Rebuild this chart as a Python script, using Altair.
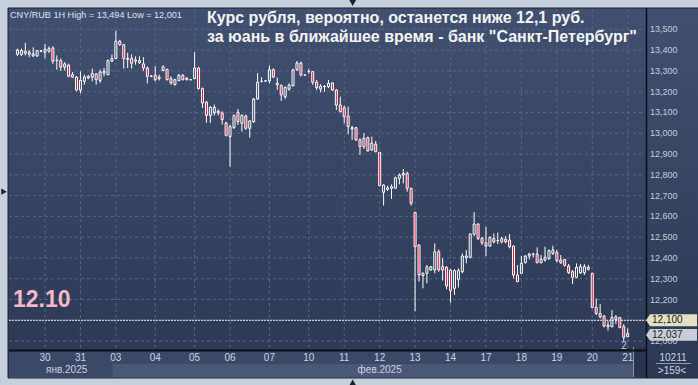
import altair as alt
import pandas as pd

opens = [13.380, 13.379, 13.395, 13.390, 13.372, 13.372, 13.395, 13.390, 13.395, 13.410,
         13.350, 13.350, 13.318, 13.327, 13.282, 13.270, 13.208, 13.250, 13.266, 13.270,
         13.285, 13.254, 13.290, 13.282, 13.347, 13.360, 13.443, 13.427, 13.355, 13.360,
         13.347, 13.350, 13.334, 13.314, 13.274, 13.279, 13.263, 13.302, 13.308, 13.263,
         13.234, 13.254, 13.279, 13.258, 13.257, 13.263, 13.314, 13.215, 13.150, 13.086,
         13.098, 13.106, 13.098, 13.050, 12.984, 13.027, 13.101, 13.048, 13.083, 13.024,
         13.056, 13.165, 13.249, 13.251, 13.252, 13.306, 13.241, 13.229, 13.176, 13.212,
         13.229, 13.306, 13.338, 13.281, 13.297, 13.297, 13.245, 13.213, 13.224, 13.224,
         13.242, 13.208, 13.136, 13.123, 13.083, 13.020, 13.027, 12.968, 12.936, 12.979,
         12.920, 12.948, 12.908, 12.716, 12.730, 12.735, 12.735, 12.783, 12.799, 12.807,
         12.735, 12.619, 12.462, 12.315, 12.326, 12.342, 12.342, 12.430, 12.342, 12.355,
         12.342, 12.254, 12.297, 12.334, 12.401, 12.403, 12.515, 12.563, 12.494, 12.473,
         12.457, 12.493, 12.483, 12.477, 12.490, 12.486, 12.457, 12.318, 12.326, 12.377,
         12.409, 12.418, 12.419, 12.377, 12.390, 12.398, 12.422, 12.427, 12.390, 12.393,
         12.361, 12.334, 12.307, 12.329, 12.329, 12.355, 12.326, 12.162, 12.133, 12.120,
         12.069, 12.069, 12.104, 12.113, 12.069, 12.021]
highs = [13.407, 13.407, 13.435, 13.400, 13.414, 13.400, 13.400, 13.430, 13.418, 13.418,
         13.375, 13.360, 13.342, 13.335, 13.295, 13.275, 13.298, 13.282, 13.280, 13.311,
         13.290, 13.306, 13.314, 13.355, 13.379, 13.494, 13.450, 13.430, 13.387, 13.379,
         13.370, 13.370, 13.366, 13.322, 13.280, 13.322, 13.282, 13.327, 13.310, 13.274,
         13.262, 13.286, 13.285, 13.270, 13.260, 13.391, 13.320, 13.220, 13.155, 13.130,
         13.138, 13.115, 13.106, 13.055, 13.040, 13.091, 13.117, 13.091, 13.090, 13.064,
         13.170, 13.289, 13.270, 13.256, 13.326, 13.313, 13.268, 13.236, 13.225, 13.240,
         13.310, 13.348, 13.345, 13.283, 13.310, 13.300, 13.257, 13.236, 13.232, 13.257,
         13.245, 13.213, 13.176, 13.133, 13.128, 13.036, 13.030, 12.976, 13.000, 12.984,
         12.984, 12.963, 12.910, 12.754, 12.748, 12.754, 12.791, 12.807, 12.828, 12.815,
         12.738, 12.622, 12.465, 12.331, 12.366, 12.361, 12.470, 12.441, 12.398, 12.360,
         12.345, 12.345, 12.350, 12.422, 12.438, 12.518, 12.620, 12.567, 12.502, 12.550,
         12.505, 12.518, 12.522, 12.502, 12.505, 12.515, 12.460, 12.366, 12.409, 12.414,
         12.425, 12.425, 12.451, 12.414, 12.454, 12.441, 12.459, 12.438, 12.414, 12.395,
         12.371, 12.342, 12.374, 12.371, 12.371, 12.366, 12.329, 12.205, 12.178, 12.125,
         12.098, 12.149, 12.125, 12.117, 12.082, 12.061]
lows = [13.372, 13.372, 13.375, 13.366, 13.368, 13.368, 13.390, 13.360, 13.387, 13.334,
        13.306, 13.300, 13.302, 13.270, 13.266, 13.202, 13.192, 13.234, 13.260, 13.250,
        13.234, 13.242, 13.274, 13.279, 13.343, 13.360, 13.420, 13.311, 13.314, 13.311,
        13.330, 13.334, 13.300, 13.240, 13.270, 13.250, 13.254, 13.298, 13.254, 13.234,
        13.230, 13.250, 13.254, 13.254, 13.255, 13.260, 13.210, 13.122, 13.050, 13.050,
        13.086, 13.086, 13.042, 12.985, 12.839, 13.021, 13.040, 13.008, 13.016, 12.979,
        13.050, 13.160, 13.245, 13.248, 13.240, 13.265, 13.209, 13.155, 13.165, 13.205,
        13.224, 13.300, 13.273, 13.278, 13.287, 13.233, 13.208, 13.197, 13.200, 13.217,
        13.204, 13.112, 13.101, 13.048, 12.995, 12.968, 12.963, 12.896, 12.924, 12.912,
        12.915, 12.908, 12.745, 12.652, 12.722, 12.684, 12.732, 12.754, 12.759, 12.719,
        12.652, 12.144, 12.286, 12.254, 12.278, 12.339, 12.326, 12.334, 12.291, 12.249,
        12.185, 12.222, 12.258, 12.326, 12.374, 12.398, 12.505, 12.486, 12.462, 12.409,
        12.454, 12.470, 12.467, 12.470, 12.470, 12.446, 12.302, 12.286, 12.323, 12.374,
        12.393, 12.403, 12.374, 12.374, 12.382, 12.390, 12.414, 12.380, 12.371, 12.358,
        12.323, 12.275, 12.302, 12.323, 12.318, 12.339, 12.157, 12.125, 12.109, 12.066,
        12.050, 12.066, 12.082, 12.061, 12.001, 12.018]
closes = [13.401, 13.398, 13.385, 13.380, 13.382, 13.398, 13.396, 13.404, 13.407, 13.347,
          13.352, 13.318, 13.334, 13.274, 13.270, 13.208, 13.254, 13.271, 13.274, 13.287,
          13.258, 13.295, 13.298, 13.350, 13.360, 13.443, 13.427, 13.360, 13.360, 13.337,
          13.353, 13.340, 13.314, 13.274, 13.275, 13.258, 13.270, 13.320, 13.258, 13.242,
          13.258, 13.279, 13.258, 13.266, 13.258, 13.314, 13.215, 13.146, 13.086, 13.125,
          13.125, 13.098, 13.066, 12.990, 13.032, 13.085, 13.056, 13.085, 13.024, 13.059,
          13.165, 13.245, 13.250, 13.252, 13.306, 13.271, 13.233, 13.184, 13.220, 13.232,
          13.305, 13.338, 13.281, 13.280, 13.297, 13.245, 13.220, 13.226, 13.225, 13.240,
          13.208, 13.136, 13.104, 13.080, 13.032, 13.027, 12.968, 12.936, 12.976, 12.915,
          12.952, 12.912, 12.748, 12.751, 12.738, 12.743, 12.786, 12.799, 12.807, 12.735,
          12.663, 12.454, 12.318, 12.326, 12.356, 12.358, 12.430, 12.342, 12.358, 12.265,
          12.242, 12.339, 12.339, 12.409, 12.409, 12.515, 12.563, 12.494, 12.473, 12.457,
          12.499, 12.477, 12.484, 12.493, 12.478, 12.454, 12.318, 12.286, 12.374, 12.409,
          12.419, 12.418, 12.377, 12.393, 12.403, 12.435, 12.438, 12.387, 12.377, 12.364,
          12.329, 12.307, 12.355, 12.358, 12.358, 12.345, 12.162, 12.133, 12.117, 12.072,
          12.077, 12.113, 12.117, 12.066, 12.018, 12.037]

day_labels = ["30", "31", "03", "04", "05", "06", "07", "10", "11", "12", "13", "14",
              "17", "18", "19", "20", "21"]
day_start = [7, 16, 25, 35, 45, 54, 64, 74, 83, 92, 101, 110, 119, 128, 137, 146, 155]
month_labels = ["янв.2025", "фев.2025"]
month_at = [12.5, 92.0]
price_ticks = [12.0, 12.1, 12.2, 12.3, 12.4, 12.5, 12.6, 12.7, 12.8, 12.9,
               13.0, 13.1, 13.2, 13.3, 13.4, 13.5]
price_tick_labels = ["12,000", "12,100", "12,200", "12,300", "12,400", "12,500", "12,600",
                     "12,700", "12,800", "12,900", "13,000", "13,100", "13,200", "13,300",
                     "13,400", "13,500"]
level_value = [12.10]
level_text = ["12,100"]
last_value = [12.037]
last_text = ["12,037"]

W, H = 636, 341
FONT = "Liberation Sans"

df = pd.DataFrame({"k": list(range(len(opens))), "o": opens, "h": highs, "l": lows, "c": closes})
df["top"] = df[["o", "c"]].max(axis=1)
df["bot"] = df[["o", "c"]].min(axis=1)

xs = alt.Scale(domain=[-0.875, 158.125], nice=False, zero=False)
ys = alt.Scale(domain=[11.957, 13.598], nice=False, zero=False)

one = pd.DataFrame({"a": [0]})
days = pd.DataFrame({"k": day_start, "lab": day_labels})
months = pd.DataFrame({"k": month_at, "lab": month_labels})
ticks = pd.DataFrame({"v": price_ticks, "lab": price_tick_labels})
# the axis label that sits under the level tag is hidden in the original
shown_ticks = ticks[~ticks["lab"].isin(level_text)]
lvl = pd.DataFrame({"v": level_value, "lab": level_text})
last = pd.DataFrame({"v": last_value, "lab": last_text})

grad = alt.Gradient(gradient="linear",
                    stops=[alt.GradientStop(color="#415070", offset=0),
                           alt.GradientStop(color="#2c3853", offset=1)],
                    x1=0, x2=0, y1=0, y2=1)

panel = alt.Chart(one).mark_rect(color=grad, stroke="#1c2233", strokeWidth=1).encode(
    x=alt.value(-1), x2=alt.value(690), y=alt.value(-1), y2=alt.value(369))

strip = alt.Chart(one).mark_rect(color="#3c4966").encode(
    x=alt.value(0), x2=alt.value(637), y=alt.value(341), y2=alt.value(369))
feb_band = alt.Chart(one).mark_rect(color="#4a5776").encode(
    x=alt.value(103.5), x2=alt.value(624), y=alt.value(355), y2=alt.value(368))
marker = alt.Chart(one).mark_rect(color="#2a3550").encode(
    x=alt.value(624), x2=alt.value(637), y=alt.value(338), y2=alt.value(369))
marker_edge = alt.Chart(one).mark_rule(color="#8a96ac", strokeWidth=1).encode(
    x=alt.value(624.5), y=alt.value(338), y2=alt.value(368))

hgrid = alt.Chart(ticks).mark_rule(color="#586685", strokeWidth=1, strokeDash=[3, 3]).encode(
    y=alt.Y("v:Q", scale=ys, axis=None), x=alt.value(0), x2=alt.value(W))
vgrid = alt.Chart(days).mark_rule(color="#586685", strokeWidth=1, strokeDash=[3, 3]).encode(
    x=alt.X("k:Q", scale=xs, axis=None), y=alt.value(0), y2=alt.value(H))

level_line = alt.Chart(lvl).mark_rule(color="#eeeeee", strokeWidth=1, strokeDash=[2, 1]).encode(
    y=alt.Y("v:Q", scale=ys, axis=None), x=alt.value(0), x2=alt.value(637))

base = alt.Chart(df).encode(x=alt.X("k:Q", scale=xs, axis=None))
wick_up = base.mark_rule(color="white", strokeWidth=1).encode(
    y=alt.Y("top:Q", scale=ys, axis=None), y2="h:Q")
wick_dn = base.mark_rule(color="white", strokeWidth=1).encode(
    y=alt.Y("l:Q", scale=ys, axis=None), y2="bot:Q")
body = base.mark_bar(size=2, stroke="white", strokeWidth=1, fill="#e3163c").encode(
    y=alt.Y("o:Q", scale=ys, axis=None), y2="c:Q",
    fillOpacity=alt.condition("datum.c < datum.o", alt.value(1), alt.value(0)))

xline = alt.Chart(one).mark_rule(color="#0b0f18", strokeWidth=2).encode(
    x=alt.value(0), x2=alt.value(637), y=alt.value(341.5))
yline = alt.Chart(one).mark_rule(color="#0b0f18", strokeWidth=1.5).encode(
    x=alt.value(637.5), y=alt.value(-1), y2=alt.value(369))

ylabels = alt.Chart(shown_ticks).mark_text(align="left", baseline="middle", font=FONT, fontSize=9,
                                           color="#c3ccdc").encode(
    y=alt.Y("v:Q", scale=ys, axis=None), x=alt.value(641), text="lab:N")
xlabels = alt.Chart(days).mark_text(align="center", baseline="middle", font=FONT, fontSize=10,
                                    color="#c8d2e4").encode(
    x=alt.X("k:Q", scale=xs, axis=None), y=alt.value(349), text="lab:N")
mlabels = alt.Chart(months).mark_text(align="center", baseline="middle", font=FONT, fontSize=10,
                                      color="#c8d2e4").encode(
    x=alt.X("k:Q", scale=xs, axis=None), y=alt.value(360.5), text="lab:N")

tag_path = "M-1,0 L-0.84,-0.235 L1,-0.235 L1,0.235 L-0.84,0.235 Z"
tag1 = alt.Chart(lvl).mark_point(shape=tag_path, filled=True, size=2601, color="#e4e0c4",
                                 opacity=1).encode(
    y=alt.Y("v:Q", scale=ys, axis=None), x=alt.value(662.5))
tag1_text = alt.Chart(lvl).mark_text(align="left", baseline="middle", font=FONT, fontSize=10,
                                     color="#1a1a1a").encode(
    y=alt.Y("v:Q", scale=ys, axis=None), x=alt.value(643), text="lab:N")
tag2 = alt.Chart(last).mark_point(shape=tag_path, filled=True, size=2601, color="#c8cdd8",
                                  opacity=1).encode(
    y=alt.Y("v:Q", scale=ys, axis=None), x=alt.value(662.5), yOffset=alt.value(1.5))
tag2_text = alt.Chart(last).mark_text(align="left", baseline="middle", font=FONT, fontSize=10,
                                      color="#1a1a1a").encode(
    y=alt.Y("v:Q", scale=ys, axis=None), x=alt.value(643), yOffset=alt.value(1.5), text="lab:N")

info = alt.Chart(one).mark_text(text="CNY/RUB 1H High = 13,494 Low = 12,001", align="left",
                                baseline="middle", font=FONT, fontSize=9.1,
                                color="#dde4ee").encode(x=alt.value(1), y=alt.value(6))
title1 = alt.Chart(one).mark_text(text="Курс рубля, вероятно, останется ниже 12,1 руб.",
                                  align="left", baseline="alphabetic", font=FONT, fontSize=16,
                                  fontWeight="bold", color="#f4f4f4").encode(
    x=alt.value(198), y=alt.value(13.5))
title2 = alt.Chart(one).mark_text(text='за юань в ближайшее время - банк "Санкт-Петербург"',
                                  align="left", baseline="alphabetic", font=FONT, fontSize=16,
                                  fontWeight="bold", color="#f4f4f4").encode(
    x=alt.value(198), y=alt.value(33))
big = alt.Chart(one).mark_text(text="12.10", align="left", baseline="alphabetic", font=FONT,
                               fontSize=23, fontWeight="bold", color="#f5b8c8").encode(
    x=alt.value(4), y=alt.value(298))
two = alt.Chart(one).mark_text(text="2", align="center", baseline="middle", font=FONT,
                               fontSize=10, color="#c3ccdc").encode(
    x=alt.value(615), y=alt.value(337))
cnt1 = alt.Chart(one).mark_text(text="10211", align="center", baseline="middle", font=FONT,
                                fontSize=10, color="#c8d2e4").encode(
    x=alt.value(664), y=alt.value(349))
sep = alt.Chart(one).mark_rule(color="#8f9ab0", strokeWidth=1).encode(
    x=alt.value(647), x2=alt.value(682), y=alt.value(354.5))
cnt2 = alt.Chart(one).mark_text(text=">159<", align="center", baseline="middle", font=FONT,
                                fontSize=10, color="#c8d2e4").encode(
    x=alt.value(663), y=alt.value(361.5))

tri_top = alt.Chart(one).mark_point(shape="triangle-down", filled=True, size=45, color="#1b2131",
                                    opacity=1).encode(x=alt.value(343.7), y=alt.value(-6))
tri_bot = alt.Chart(one).mark_point(shape="triangle-up", filled=True, size=45, color="#1b2131",
                                    opacity=1).encode(x=alt.value(343.7), y=alt.value(373.5))
tri_left = alt.Chart(one).mark_point(shape="triangle-right", filled=True, size=40, color="#1b2131",
                                     opacity=1).encode(x=alt.value(-5), y=alt.value(182.7))

chart = alt.layer(
    panel, strip, feb_band, marker, marker_edge, hgrid, vgrid, level_line,
    wick_up, wick_dn, body, xline, yline, ylabels, xlabels, mlabels,
    tag1, tag1_text, tag2, tag2_text, info, title1, title2, big, two,
    cnt1, sep, cnt2, tri_top, tri_bot, tri_left
).properties(
    width=W, height=H,
    padding={"left": 9, "top": 9, "right": 53, "bottom": 35},
    autosize=alt.AutoSizeParams(type="none"),
    background="#c5d0dc"
).configure_view(stroke=None)

chart.save("out.html", embed_options={"renderer": "svg", "actions": False})
